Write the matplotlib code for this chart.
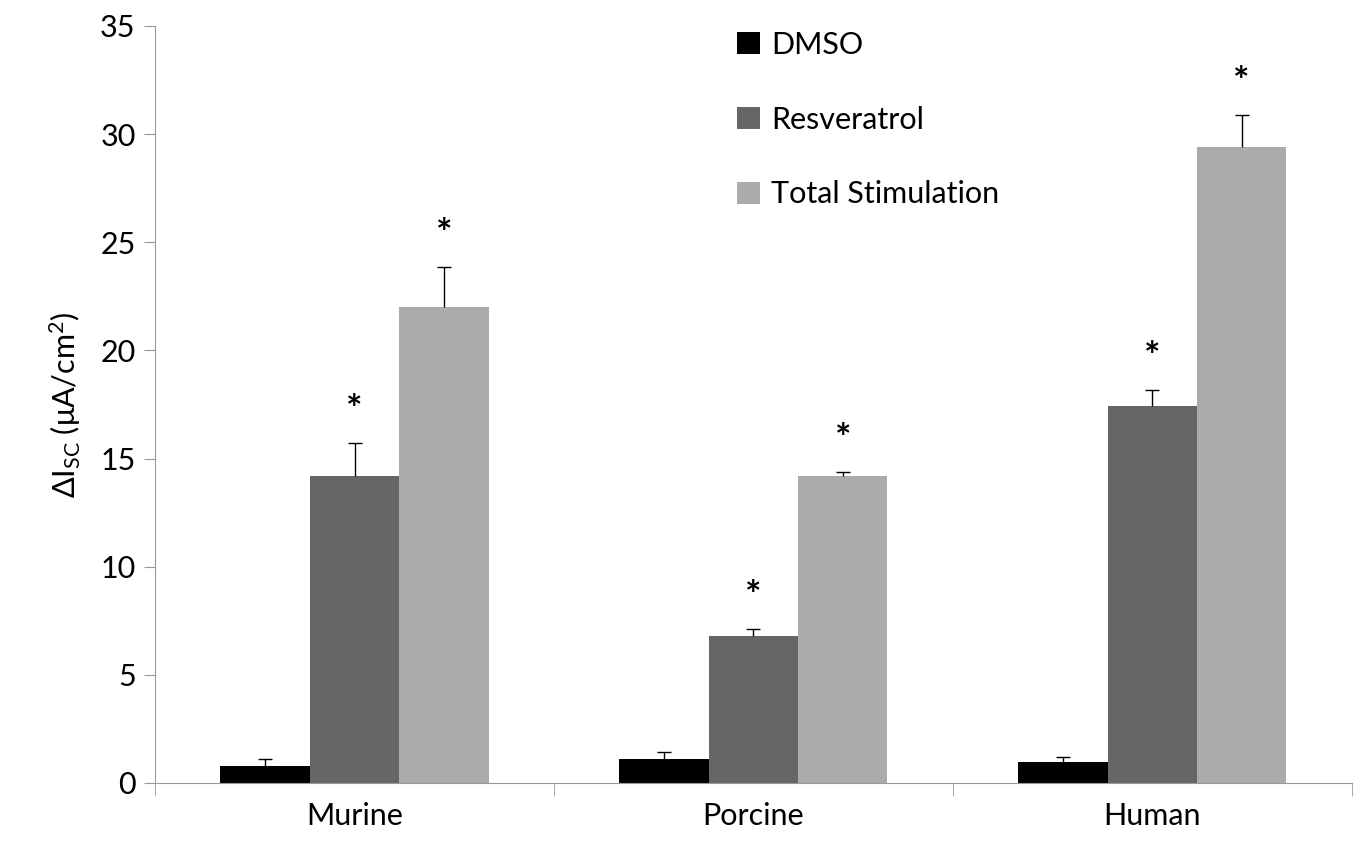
import numpy as np
import matplotlib.pyplot as plt

plt.rcParams['font.family'] = ['Lato', 'DejaVu Sans']
plt.rcParams['mathtext.fontset'] = 'custom'
plt.rcParams['mathtext.rm'] = 'Lato'
plt.rcParams['mathtext.it'] = 'Lato'

species = ['Murine', 'Porcine', 'Human']
groups = ['DMSO', 'Resveratrol', 'Total Stimulation']
colors = ['#000000', '#666666', '#ababab']

dmso = [0.8, 1.1, 0.97]
dmso_err = [0.3, 0.32, 0.23]
resv = [14.2, 6.8, 17.45]
resv_err = [1.5, 0.3, 0.7]
total = [22.0, 14.2, 29.4]
total_err = [1.85, 0.2, 1.5]

# asterisk marks significance
signif = [[False, False, False], [True, True, True], [True, True, True]]

values = [dmso, resv, total]
errors = [dmso_err, resv_err, total_err]

fig = plt.figure(figsize=(13.6, 8.57), dpi=100)
ax = fig.add_axes([0.114, 0.0864, 0.88, 0.8833])

x = np.arange(len(species))
w = 0.224
for i in range(3):
    pos = x + (i - 1) * w
    err = np.array(errors[i])
    ax.bar(pos, values[i], w, color=colors[i], label=groups[i], zorder=2)
    eb = ax.errorbar(pos, values[i], yerr=[np.zeros_like(err), err], fmt='none',
                     ecolor='black', elinewidth=1, capsize=5, capthick=1, zorder=3)
    eb[1][0].set_visible(False)  # hide lower cap
    for j in range(3):
        if signif[i][j]:
            ax.text(pos[j], values[i][j] + err[j] + 1.5, '*', ha='center',
                    va='center', fontsize=28, fontweight='bold')

ax.set_xlim(-0.5, 2.5)
ax.set_ylim(0, 35)
ax.set_yticks(np.arange(0, 36, 5))
ax.set_xticks(x)
ax.set_xticklabels(species)
ax.set_xticks([-0.5, 0.5, 1.5, 2.5], minor=True)
ax.tick_params(axis='x', which='major', length=0, pad=14, labelsize=22)
ax.tick_params(axis='x', which='minor', length=9, color='#999999')
ax.tick_params(axis='y', length=8, color='#999999', labelsize=22, pad=6)
for s in ['top', 'right']:
    ax.spines[s].set_visible(False)
for s in ['left', 'bottom']:
    ax.spines[s].set_color('#999999')

ax.set_ylabel(r'$\Delta$I$_{\mathrm{SC}}$ (μA/cm$^{2}$)', fontsize=22, labelpad=12)

ax.legend(loc='upper left', bbox_to_anchor=(0.522, 0.996), bbox_transform=fig.transFigure,
          frameon=False, fontsize=22, labelspacing=1.53, handlelength=0.75,
          handleheight=0.75, handletextpad=0.35)

plt.savefig('out.png', dpi=100)
